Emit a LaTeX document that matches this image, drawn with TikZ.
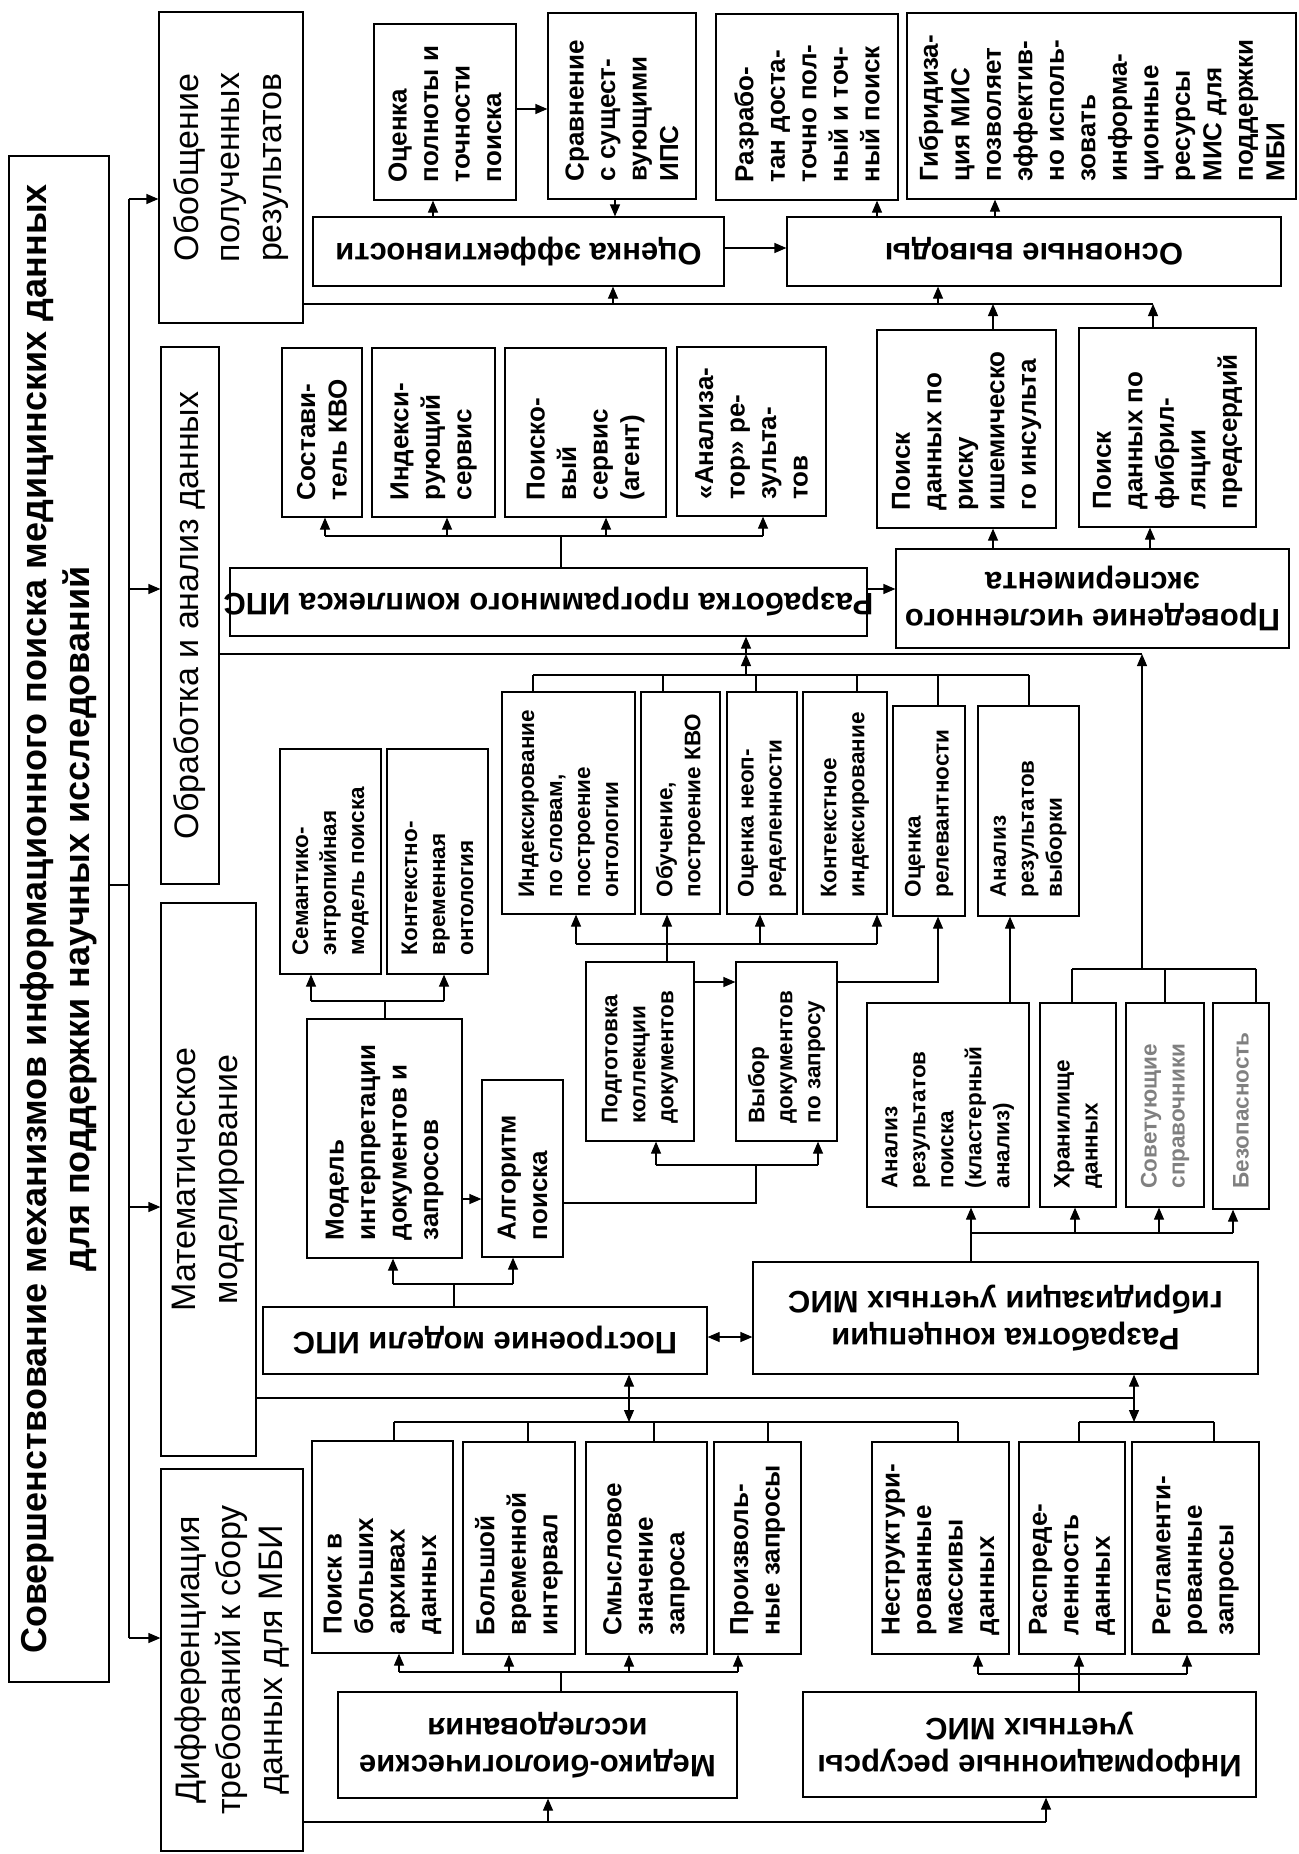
\documentclass[tikz,border=0pt]{standalone}
\usepackage{fontspec}
\setmainfont{Liberation Sans}
\usetikzlibrary{arrows.meta}

% box given by its corners: name, x1, y1, x2, y2 (y grows downwards)
\newcommand\bx[5]{\node[box, minimum width={(#4)-(#2)}, minimum height={(#5)-(#3)}] (#1) at ({((#2)+(#4))/2},{((#3)+(#5))/2}) {};}

\tikzset{
  box/.style={draw, line width=1.2pt, inner sep=0pt, rectangle},
  ln/.style={line width=1.2pt},
  arr/.style={ln, -{Triangle[length=12pt,width=10pt]}},
  darr/.style={ln, {Triangle[length=12pt,width=10pt]}-{Triangle[length=12pt,width=10pt]}},
  vt/.style={rotate=90, anchor=west, align=left, inner sep=0pt, font=\bfseries\fontsize{26}{31.5}\selectfont},
  vts/.style={vt, font=\bfseries\fontsize{22.5}{28}\selectfont},
  ut/.style={rotate=180, align=center, inner sep=0pt, font=\bfseries\fontsize{31}{37}\selectfont},
  hd/.style={rotate=90, align=center, inner sep=0pt, font=\fontsize{34}{41.5}\selectfont},
  ttl/.style={rotate=90, align=center, inner sep=0pt, font=\bfseries\fontsize{36}{43}\selectfont},
}
\definecolor{softgray}{RGB}{128,128,128}

\begin{document}
\begin{tikzpicture}[x=1pt, y=-1pt]
\fill[white] (0,0) rectangle (1298,1854);
\useasboundingbox (0,0) rectangle (1298,1854);

% ---------- main columns ----------
\bx{title}{9}{156}{109}{1682}
\bx{obob}{159}{12}{303}{323}
\bx{obrab}{161}{347}{219}{884}
\bx{matem}{161}{903}{256}{1456}
\bx{diff}{161}{1469}{303}{1851}

\node[ttl] (titleT) at (title.center) {Совершенствование механизмов информационного поиска медицинских данных\\для поддержки научных исследований};
\node[hd] (obobT) at (obob.center) {Обобщение\\полученных\\результатов};
\node[hd] (obrabT) at (obrab.center) {Обработка и анализ данных};
\node[hd] (matemT) at (matem.center) {Математическое\\моделирование};
\node[hd] (diffT) at (diff.center) {Дифференциация\\требований к сбору\\данных для МБИ};

% ---------- results ----------
\bx{op}{374}{24}{516}{200}
\bx{sr}{548}{13}{696}{199}
\bx{razp}{716}{14}{898}{200}
\bx{gib}{907}{13}{1296}{199}
\bx{oe}{313}{217}{724}{286}
\bx{ov}{787}{217}{1281}{286}
\bx{pr1}{877}{330}{1056}{528}
\bx{pr2}{1079}{328}{1256}{527}

\node[vt] (opT) at ([yshift=18pt]op.south) {Оценка\\полноты и\\точности\\поиска};
\node[vt] (srT) at ([yshift=18pt]sr.south) {Сравнение\\с сущест-\\вующими\\ИПС};
\node[vt] (razpT) at ([yshift=18pt]razp.south) {Разрабо-\\тан доста-\\точно пол-\\ный и точ-\\ный поиск};
\node[vt] (gibT) at ([yshift=18pt]gib.south) {Гибридиза-\\ция МИС\\позволяет\\эффектив-\\но исполь-\\зовать\\информа-\\ционные\\ресурсы\\МИС для\\поддержки\\МБИ};
\node[ut] (oeT) at (oe.center) {Оценка эффективности};
\node[ut] (ovT) at (ov.center) {Основные выводы};
\node[vt] (pr1T) at ([yshift=18pt]pr1.south) {Поиск\\данных по\\риску\\ишемическо\\го инсульта};
\node[vt] (pr2T) at ([yshift=18pt]pr2.south) {Поиск\\данных по\\фибрил-\\ляции\\предсердий};

% ---------- software ----------
\bx{sost}{282}{348}{362}{517}
\bx{ind}{372}{348}{495}{517}
\bx{poisk}{505}{348}{666}{517}
\bx{anal}{677}{347}{826}{516}
\bx{rpk}{230}{568}{867}{636}
\bx{prov}{896}{549}{1289}{648}

\node[vt] (sostT) at ([yshift=17pt]sost.south) {Состави-\\тель КВО};
\node[vt] (indT) at ([yshift=17pt]ind.south) {Индекси-\\рующий\\сервис};
\node[vt] (poiskT) at ([yshift=17pt]poisk.south) {Поиско-\\вый\\сервис\\(агент)};
\node[vt] (analT) at ([yshift=17pt]anal.south) {«Анализа-\\тор» ре-\\зульта-\\тов};
\node[ut] (rpkT) at (rpk.center) {Разработка программного комплекса ИПС};
\node[ut] (provT) at (prov.center) {Проведение численного\\эксперимента};

% ---------- indexing row ----------
\bx{i1}{502}{692}{635}{914}
\bx{i2}{641}{692}{720}{914}
\bx{i3}{727}{692}{797}{914}
\bx{i4}{803}{692}{887}{914}
\bx{i5}{893}{706}{965}{916}
\bx{i6}{978}{706}{1079}{916}

\node[vts] (i1T) at ([yshift=17pt]i1.south) {Индексирование\\по словам,\\построение\\онтологии};
\node[vts] (i2T) at ([yshift=17pt]i2.south) {Обучение,\\построение КВО};
\node[vts] (i3T) at ([yshift=17pt]i3.south) {Оценка неоп-\\ределенности};
\node[vts] (i4T) at ([yshift=17pt]i4.south) {Контекстное\\индексирование};
\node[vts] (i5T) at ([yshift=19pt]i5.south) {Оценка\\релевантности};
\node[vts] (i6T) at ([yshift=19pt]i6.south) {Анализ\\результатов\\выборки};

% ---------- models ----------
\bx{sem}{280}{749}{381}{974}
\bx{kvo}{387}{749}{488}{974}
\bx{podg}{586}{962}{694}{1141}
\bx{vyb}{736}{962}{837}{1141}
\bx{model}{307}{1019}{462}{1258}
\bx{alg}{482}{1080}{563}{1257}
\bx{ark}{867}{1003}{1029}{1207}
\bx{hran}{1040}{1003}{1116}{1207}
\bx{sov}{1126}{1003}{1204}{1207}
\bx{bez}{1213}{1003}{1269}{1209}
\bx{post}{263}{1307}{707}{1374}
\bx{konc}{753}{1262}{1258}{1374}

\node[vts] (semT) at ([yshift=19pt]sem.south) {Семантико-\\энтропийная\\модель поиска};
\node[vts] (kvoT) at ([yshift=19pt]kvo.south) {Контекстно-\\временная\\онтология};
\node[vts] (podgT) at ([yshift=18pt]podg.south) {Подготовка\\коллекции\\документов};
\node[vts] (vybT) at ([yshift=18pt]vyb.south) {Выбор\\документов\\по запросу};
\node[vt] (modelT) at ([yshift=18pt]model.south) {Модель\\интерпретации\\документов и\\запросов};
\node[vt] (algT) at ([yshift=17pt]alg.south) {Алгоритм\\поиска};
\node[vts] (arkT) at ([yshift=19pt]ark.south) {Анализ\\результатов\\поиска\\(кластерный\\анализ)};
\node[vts] (hranT) at ([yshift=19pt]hran.south) {Хранилище\\данных};
\node[vts, text=softgray] (sovT) at ([yshift=19pt]sov.south) {Советующие\\справочники};
\node[vts, text=softgray] (bezT) at ([yshift=21pt]bez.south) {Безопасность};
\node[ut] (postT) at (post.center) {Построение модели ИПС};
\node[ut] (koncT) at (konc.center) {Разработка концепции\\гибридизации учетных МИС};

% ---------- requirements ----------
\bx{b1}{312}{1441}{453}{1653}
\bx{b2}{463}{1442}{575}{1654}
\bx{b3}{586}{1442}{707}{1654}
\bx{b4}{714}{1442}{801}{1654}
\bx{b5}{872}{1442}{1009}{1654}
\bx{b6}{1019}{1442}{1125}{1654}
\bx{b7}{1132}{1442}{1259}{1654}
\bx{med}{338}{1692}{737}{1798}
\bx{inf}{803}{1692}{1256}{1797}

\node[vt] (b1T) at ([yshift=19pt]b1.south) {Поиск в\\больших\\архивах\\данных};
\node[vt] (b2T) at ([yshift=19pt]b2.south) {Большой\\временной\\интервал};
\node[vt] (b3T) at ([yshift=19pt]b3.south) {Смысловое\\значение\\запроса};
\node[vt] (b4T) at ([yshift=19pt]b4.south) {Произволь-\\ные запросы};
\node[vt] (b5T) at ([yshift=19pt]b5.south) {Неструктури-\\рованные\\массивы\\данных};
\node[vt] (b6T) at ([yshift=19pt]b6.south) {Распреде-\\ленность\\данных};
\node[vt] (b7T) at ([yshift=19pt]b7.south) {Регламенти-\\рованные\\запросы};
\node[ut] (medT) at (med.center) {Медико-биологические\\исследования};
\node[ut] (infT) at (inf.center) {Информационные ресурсы\\учетных МИС};

% ---------- trunk ----------
\draw[ln] (title.east |- 0,885) -- (129,885);
\draw[ln] (129,199) -- (129,1638);
\draw[arr] (129,199) -- (obob.west |- 0,199);
\draw[arr] (129,589) -- (obrab.west |- 0,589);
\draw[arr] (129,1207) -- (matem.west |- 0,1207);
\draw[arr] (129,1638) -- (diff.west |- 0,1638);

% ---------- results links ----------
\draw[ln] (obob.east |- 0,304) -- (1153,304);
\draw[arr] (613,304) -- (613,0 |- oe.south);
\draw[arr] (938,304) -- (938,0 |- ov.south);
\draw[arr] (993,0 |- pr1.north) -- (993,304);
\draw[arr] (1153,0 |- pr2.north) -- (1153,304);
\draw[arr] (433,0 |- oe.north) -- (433,0 |- op.south);
\draw[arr] (615,0 |- sr.south) -- (615,0 |- oe.north);
\draw[arr] (op.east |- 0,109) -- (sr.west |- 0,109);
\draw[arr] (oe.east |- 0,248) -- (ov.west |- 0,248);
\draw[arr] (877,0 |- ov.north) -- (877,0 |- razp.south);
\draw[arr] (995,0 |- ov.north) -- (995,0 |- gib.south);

% ---------- software links ----------
\draw[ln] (561,0 |- rpk.north) -- (561,536);
\draw[ln] (325,536) -- (763,536);
\draw[arr] (325,536) -- (325,0 |- sost.south);
\draw[arr] (447,536) -- (447,0 |- ind.south);
\draw[arr] (606,536) -- (606,0 |- poisk.south);
\draw[arr] (763,536) -- (763,0 |- anal.south);
\draw[arr] (rpk.east |- 0,589) -- (prov.west |- 0,589);
\draw[arr] (993,0 |- prov.north) -- (993,0 |- pr1.south);
\draw[arr] (1150,0 |- prov.north) -- (1150,0 |- pr2.south);
\draw[ln] (obrab.east |- 0,654) -- (1142,654);
\draw[arr] (746,654) -- (746,0 |- rpk.south);
\draw[arr] (746,675) -- (746,654);
\draw[ln] (533,675) -- (1029,675);
\draw[ln] (533,675) -- (533,0 |- i1.north);
\draw[ln] (663,675) -- (663,0 |- i2.north);
\draw[ln] (756,675) -- (756,0 |- i3.north);
\draw[ln] (857,675) -- (857,0 |- i4.north);
\draw[ln] (938,675) -- (938,0 |- i5.north);
\draw[ln] (1029,675) -- (1029,0 |- i6.north);
\draw[ln] (1072,969) -- (1256,969);
\draw[ln] (1072,969) -- (1072,0 |- hran.north);
\draw[ln] (1165,969) -- (1165,0 |- sov.north);
\draw[ln] (1256,969) -- (1256,0 |- bez.north);
\draw[arr] (1142,969) -- (1142,654);

% ---------- model links ----------
\draw[ln] (576,944) -- (877,944);
\draw[arr] (576,944) -- (576,0 |- i1.south);
\draw[arr] (667,944) -- (667,0 |- i2.south);
\draw[arr] (760,944) -- (760,0 |- i3.south);
\draw[arr] (877,944) -- (877,0 |- i4.south);
\draw[ln] (667,0 |- podg.north) -- (667,944);
\draw[arr] (podg.east |- 0,982) -- (vyb.west |- 0,982);
\draw[arr] (vyb.east |- 0,982) -- (938,982) -- (938,0 |- i5.south);
\draw[arr] (1010,0 |- ark.north) -- (1010,0 |- i6.south);
\draw[ln] (385,0 |- model.north) -- (385,1001);
\draw[ln] (311,1001) -- (444,1001);
\draw[arr] (311,1001) -- (311,0 |- sem.south);
\draw[arr] (444,1001) -- (444,0 |- kvo.south);
\draw[arr] (model.east |- 0,1199) -- (alg.west |- 0,1199);
\draw[ln] (alg.east |- 0,1203) -- (756,1203) -- (756,1165);
\draw[ln] (656,1165) -- (818,1165);
\draw[arr] (656,1165) -- (656,0 |- podg.south);
\draw[arr] (818,1165) -- (818,0 |- vyb.south);
\draw[ln] (454,0 |- post.north) -- (454,1284);
\draw[ln] (393,1284) -- (513,1284);
\draw[arr] (393,1284) -- (393,0 |- model.south);
\draw[arr] (513,1284) -- (513,0 |- alg.south);
\draw[darr] (post.east |- 0,1337) -- (konc.west |- 0,1337);
\draw[ln] (971,0 |- konc.north) -- (971,1233);
\draw[ln] (971,1233) -- (1233,1233);
\draw[arr] (971,1233) -- (971,0 |- ark.south);
\draw[arr] (1075,1233) -- (1075,0 |- hran.south);
\draw[arr] (1159,1233) -- (1159,0 |- sov.south);
\draw[arr] (1233,1233) -- (1233,0 |- bez.south);

% ---------- requirement links ----------
\draw[ln] (matem.east |- 0,1398) -- (1134,1398);
\draw[darr] (629,0 |- post.south) -- (629,1422);
\draw[darr] (1134,0 |- konc.south) -- (1134,1422);
\draw[ln] (394,1422) -- (958,1422);
\draw[ln] (394,1422) -- (394,0 |- b1.north);
\draw[ln] (528,1422) -- (528,0 |- b2.north);
\draw[ln] (654,1422) -- (654,0 |- b3.north);
\draw[ln] (768,1422) -- (768,0 |- b4.north);
\draw[ln] (958,1422) -- (958,0 |- b5.north);
\draw[ln] (1079,1422) -- (1214,1422);
\draw[ln] (1079,1422) -- (1079,0 |- b6.north);
\draw[ln] (1214,1422) -- (1214,0 |- b7.north);
\draw[ln] (561,0 |- med.north) -- (561,1672);
\draw[ln] (399,1672) -- (738,1672);
\draw[arr] (399,1672) -- (399,0 |- b1.south);
\draw[arr] (509,1672) -- (509,0 |- b2.south);
\draw[arr] (629,1672) -- (629,0 |- b3.south);
\draw[arr] (738,1672) -- (738,0 |- b4.south);
\draw[ln] (1079,0 |- inf.north) -- (1079,1674);
\draw[ln] (978,1674) -- (1187,1674);
\draw[arr] (978,1674) -- (978,0 |- b5.south);
\draw[arr] (1079,1674) -- (1079,0 |- b6.south);
\draw[arr] (1187,1674) -- (1187,0 |- b7.south);
\draw[ln] (diff.east |- 0,1822) -- (1046,1822);
\draw[arr] (548,1822) -- (548,0 |- med.south);
\draw[arr] (1046,1822) -- (1046,0 |- inf.south);
\end{tikzpicture}
\end{document}
